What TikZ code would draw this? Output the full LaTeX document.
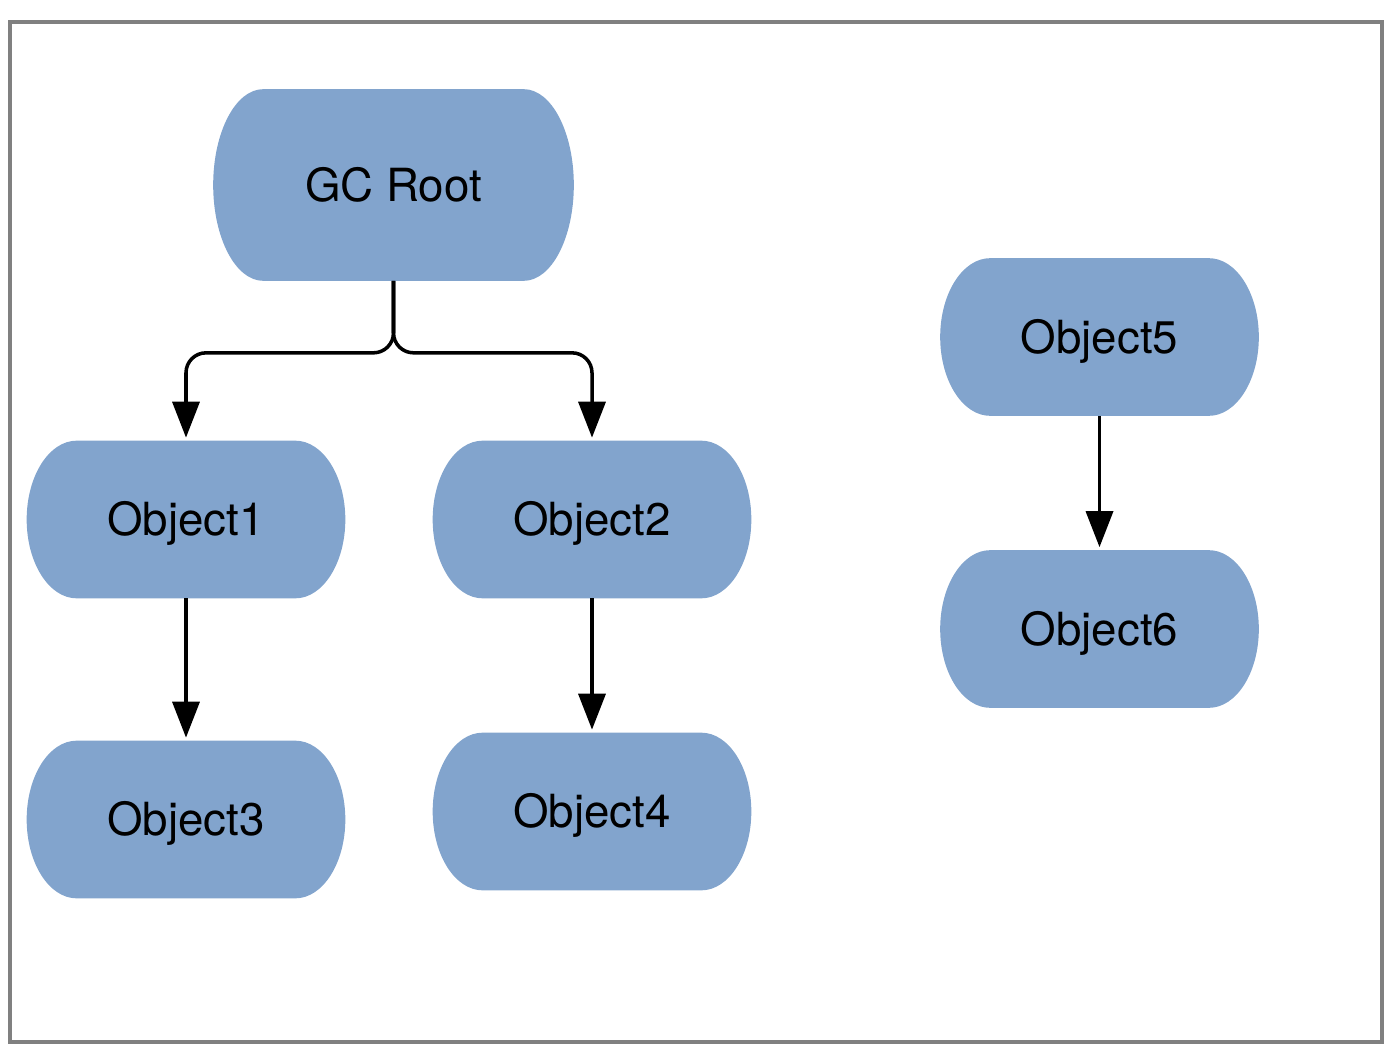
\documentclass[tikz,border=0pt]{standalone}
\usepackage{fontspec}
\setmainfont{TeX Gyre Heros}
\usetikzlibrary{arrows.meta,positioning,calc,backgrounds}
\definecolor{objblue}{RGB}{130,164,205}
\definecolor{framegray}{RGB}{128,128,128}

\begin{document}
\begin{tikzpicture}[
        x = 0.02cm, y = -0.02cm,
        objbox/.style = {rectangle, inner sep=0pt, minimum width=6.36cm, minimum height=3.14cm, font=\fontsize{26}{30}\selectfont, text height=18.6pt, text depth=0pt},
        rootbox/.style = {objbox, minimum width=7.2cm, minimum height=3.82cm},
        line/.style = {draw, line width=2pt, -{Triangle[length=0.72cm, width=0.54cm]}, shorten >=0.06cm}
    ]
        \useasboundingbox (0,0) rectangle (1392,1054);
        \draw [framegray, line width=2.2pt] (10,22) rectangle (1382,1042);

        % Place nodes
        \node [rootbox] at (393.5,185) (root) {GC Root};
        \node [objbox] at (186,519.5) (obj1) {Object1};
        \node [objbox] at (592,519.5) (obj2) {Object2};
        \node [objbox] at ($(obj1.center) + (0,300)$) (obj3) {Object3};
        \node [objbox] at ($(obj2.center) + (0,292)$) (obj4) {Object4};
        \node [objbox] at (1099.5,337) (obj5) {Object5};
        \node [objbox] at ($(obj5.center) + (0,292)$) (obj6) {Object6};
        \coordinate (split) at ($(root.south) + (0,72)$);

        % Fill the node shapes
        \begin{scope}[on background layer]
        \foreach \obj in {root,obj1,obj2,obj3,obj4,obj5,obj6}{
            \fill [objblue] let \p1 = (\obj.north west), \p2 = (\obj.south east) in
                (\x1+1cm,\y1) -- (\x2-1cm,\y1)
                arc [start angle=90, end angle=-90, x radius=1cm, y radius={(\y1-\y2)/2}]
                -- (\x1+1cm,\y2)
                arc [start angle=270, end angle=90, x radius=1cm, y radius={(\y1-\y2)/2}]
                -- cycle;
        }
        \end{scope}

        % Draw edges
        \draw [line, rounded corners=0.4cm] (root.south) -- (split) -| (obj1.north);
        \draw [line, rounded corners=0.4cm] (root.south) -- (split) -| (obj2.north);
        \draw [line] (obj1.south) -- (obj3.north);
        \draw [line] (obj2.south) -- (obj4.north);
        \draw [line] (obj5.south) -- (obj6.north);

\end{tikzpicture}
\end{document}
